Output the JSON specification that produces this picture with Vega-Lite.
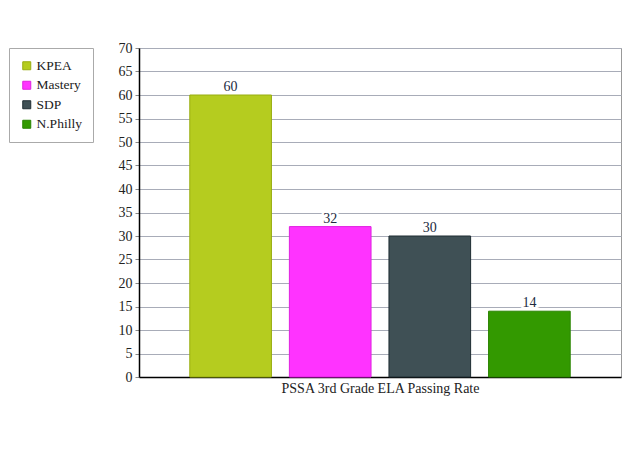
{
  "$schema": "https://vega.github.io/schema/vega-lite/v6.json",
  "autosize": "none",
  "padding": {"left": 139, "top": 48, "right": 19, "bottom": 94},
  "width": 482,
  "height": 329,
  "background": "white",
  "data": {
    "values": [
      {"school": "KPEA", "rate": 60},
      {"school": "Mastery", "rate": 32},
      {"school": "SDP", "rate": 30},
      {"school": "N.Philly", "rate": 14}
    ]
  },
  "config": {
    "font": "serif",
    "axis": {"labelFont": "serif", "titleFont": "serif"},
    "legend": {"labelFont": "serif"},
    "text": {"font": "serif"},
    "view": {"stroke": "#999999", "strokeWidth": 1}
  },
  "encoding": {
    "x": {
      "field": "school",
      "type": "nominal",
      "sort": null,
      "scale": {"paddingInner": 0.18, "paddingOuter": 0.51},
      "axis": {
        "title": "PSSA 3rd Grade ELA Passing Rate",
        "labels": false,
        "ticks": false,
        "domainColor": "black",
        "domainWidth": 1.5,
        "titleFontWeight": "normal",
        "titleFontSize": 14,
        "titleColor": "#222222",
        "titlePadding": 4
      }
    },
    "y": {
      "field": "rate",
      "type": "quantitative",
      "scale": {"domain": [0, 70]},
      "axis": {
        "title": null,
        "values": [0, 5, 10, 15, 20, 25, 30, 35, 40, 45, 50, 55, 60, 65, 70],
        "domainColor": "black",
        "domainWidth": 1.5,
        "gridColor": "#a8acb8",
        "gridOpacity": 1,
        "tickColor": "#888888",
        "tickSize": 4,
        "labelFontSize": 14,
        "labelColor": "#222222",
        "labelPadding": 3
      }
    }
  },
  "layer": [
    {
      "mark": {"type": "bar", "strokeWidth": 1},
      "encoding": {
        "color": {
          "field": "school",
          "type": "nominal",
          "sort": null,
          "scale": {
            "domain": ["KPEA", "Mastery", "SDP", "N.Philly"],
            "range": ["#b5cc1f", "#ff33ff", "#3f5055", "#339900"]
          },
          "legend": {
            "title": null,
            "orient": "none",
            "legendX": -130,
            "legendY": 0,
            "padding": 11,
            "strokeColor": "#aaaaaa",
            "fillColor": "white",
            "symbolType": "square",
            "symbolSize": 64,
            "symbolStrokeWidth": 1,
            "symbolStrokeColor": "#666666",
            "labelFontSize": 13.5,
            "labelColor": "#222222",
            "rowPadding": 4.5,
            "labelOffset": 3
          }
        },
        "stroke": {
          "field": "school",
          "type": "nominal",
          "sort": null,
          "scale": {
            "domain": ["KPEA", "Mastery", "SDP", "N.Philly"],
            "range": ["#98ad10", "#e020e0", "#1f2d33", "#2a8400"]
          },
          "legend": null
        }
      }
    },
    {
      "mark": {"type": "text", "dy": -8, "fontSize": 14, "stroke": "white", "strokeWidth": 5, "fill": "white"},
      "encoding": {"text": {"field": "rate", "type": "quantitative"}}
    },
    {
      "mark": {"type": "text", "dy": -8, "fontSize": 14, "color": "#1d2b3f"},
      "encoding": {"text": {"field": "rate", "type": "quantitative"}}
    }
  ]
}
